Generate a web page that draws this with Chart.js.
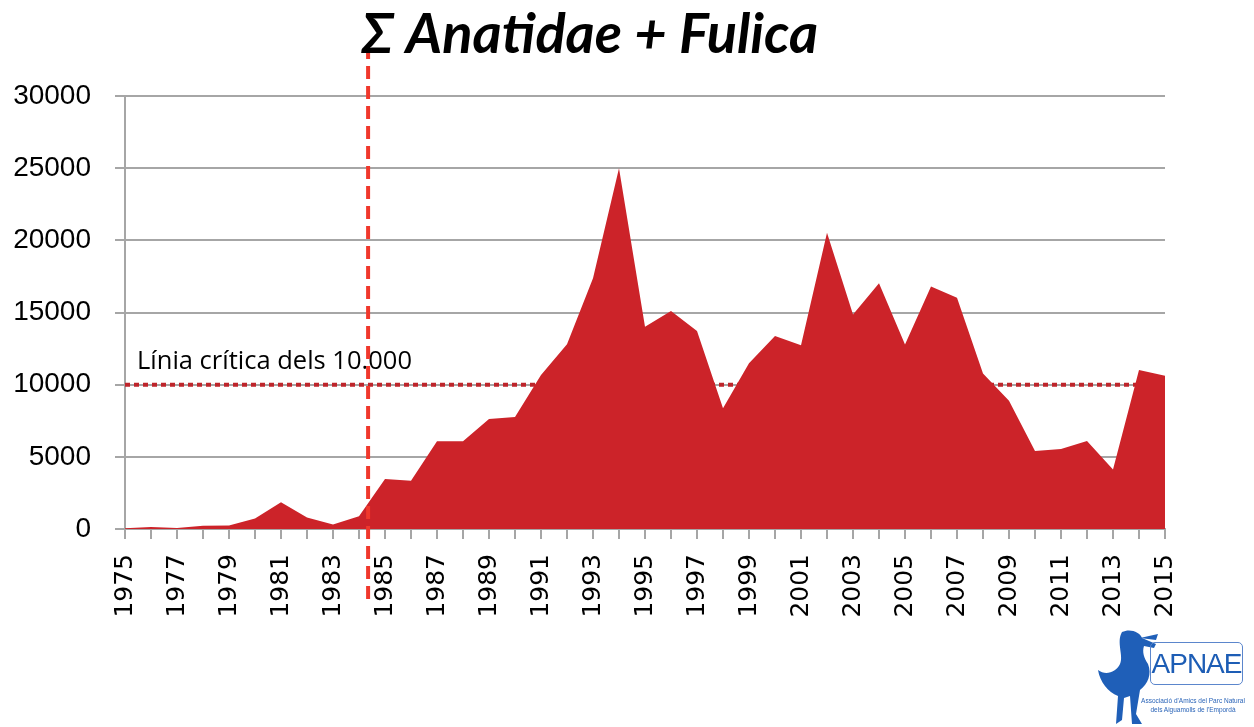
<!DOCTYPE html>
<html>
<head>
<meta charset="utf-8">
<script src="https://cdn.jsdelivr.net/npm/chart.js@4/dist/chart.umd.min.js"></script>
<style>
  body { margin: 0; background: #fff; }
  .wrap { position: relative; width: 1254px; height: 727px; overflow: hidden; }
  .title {
    position: absolute; left: 0; width: 1180px; top: -2px; text-align: center;
    font: italic bold 56px Lato, "Open Sans", sans-serif; color: #000;
  }
  .logo { position: absolute; left: 1096px; top: 628px; width: 158px; height: 99px; }
  .logo .box {
    position: absolute; left: 54px; top: 14px; width: 93px; height: 43px;
    border: 1px solid #5b86cc; border-radius: 5px; box-sizing: border-box;
    font: 28px "Liberation Sans", sans-serif; color: #1d5db5;
    line-height: 42px; text-align: center; letter-spacing: -1px;
  }
  .logo .small {
    position: absolute; left: 36px; top: 68px; width: 122px; text-align: center;
    font: 6.5px "Liberation Sans", sans-serif; color: #2a64b8; line-height: 9px; white-space: nowrap;
  }
</style>
</head>
<body>
<div class="wrap">
  <canvas id="chart" width="1254" height="727"></canvas>
  <div class="title">Σ Anatidae + Fulica</div>
  <div class="logo">
    <svg width="80" height="99" viewBox="0 0 80 99" style="position:absolute;left:0;top:0">
      <path d="M26 4 C34 0 44 4 46 10 L60 16 L58 20 L48 18 C46 24 48 30 52 36
               C56 46 52 56 44 62 L40 86 L46 96 L36 96 L34 68 L28 70 L26 92 L20 96 L22 68
               C12 64 4 54 2 42 C10 48 20 44 24 36 C28 28 20 14 26 4 Z" fill="#1f5fb8"/>
      <path d="M44 10 L62 6 L60 12 Z" fill="#1f5fb8"/>
    </svg>
    <div class="box">APNAE</div>
    <div class="small">Associació d'Amics del Parc Natural<br>dels Aiguamolls de l'Empordà</div>
  </div>
</div>
<script>
const years = [];
for (let y = 1975; y <= 2015; y++) years.push(String(y));

const counts = [
  50, 140, 70, 230, 250, 720, 1850, 800, 320, 880,
  3460, 3350, 6080, 6080, 7620, 7760, 10670, 12800, 17370, 25000,
  14020, 15100, 13720, 8360, 11480, 13370, 12730, 20530, 14870, 17020,
  12790, 16810, 16030, 10780, 8890, 5400, 5540, 6100, 4130, 11020,
  10620
];

const criticalLevel = 10000;
const criticalLabel = 'Línia crítica dels 10.000';
// index position of the vertical marker (a bit after 1984)
const markerIndex = 9.35;

const refLines = {
  id: 'refLines',
  beforeDatasetsDraw(chart) {
    const { ctx, chartArea, scales } = chart;
    const y = scales.y.getPixelForValue(criticalLevel);
    ctx.save();
    ctx.strokeStyle = '#be252b';
    ctx.lineWidth = 4;
    ctx.setLineDash([5, 4]);
    ctx.beginPath();
    ctx.moveTo(chartArea.left, y);
    ctx.lineTo(chartArea.right, y);
    ctx.stroke();
    ctx.fillStyle = '#000';
    ctx.font = '25.5px "Open Sans", sans-serif';
    ctx.textBaseline = 'alphabetic';
    ctx.fillText(criticalLabel, chartArea.left + 12, y - 16);
    ctx.restore();
  },
  afterDatasetsDraw(chart) {
    const { ctx, scales } = chart;
    const x = scales.x.getPixelForValue(markerIndex);
    ctx.save();
    ctx.strokeStyle = '#f0382c';
    ctx.lineWidth = 4;
    ctx.setLineDash([13, 7]);
    ctx.beginPath();
    ctx.moveTo(x, 46);
    ctx.lineTo(x, 606);
    ctx.stroke();
    ctx.restore();
  }
};

new Chart(document.getElementById('chart'), {
  type: 'line',
  data: {
    labels: years,
    datasets: [{
      data: counts,
      fill: 'origin',
      backgroundColor: '#cc2329',
      borderWidth: 0,
      pointRadius: 0,
      tension: 0
    }]
  },
  options: {
    responsive: false,
    animation: false,
    layout: { padding: { top: 96, right: 89, left: 0, bottom: 0 } },
    plugins: { legend: { display: false }, tooltip: { enabled: false } },
    scales: {
      x: {
        offset: false,
        afterFit: s => { s.height = 198; },
        border: { color: '#a6a6a6', width: 2 },
        grid: { drawOnChartArea: false, drawTicks: true, tickLength: 10, color: '#a6a6a6', lineWidth: 2 },
        ticks: {
          autoSkip: false, maxRotation: 90, minRotation: 90, padding: 15,
          color: '#000', font: { family: '"DejaVu Sans", sans-serif', size: 25 },
          callback: (v, i) => (i % 2 === 0 ? years[i] : '')
        }
      },
      y: {
        min: 0, max: 30000,
        afterFit: s => { s.width = 125; },
        border: { color: '#a6a6a6', width: 2 },
        grid: { color: '#a6a6a6', lineWidth: 2, tickLength: 10 },
        ticks: {
          stepSize: 5000, padding: 24, color: '#000',
          font: { family: '"Liberation Sans", sans-serif', size: 28 },
          callback: v => String(v)
        }
      }
    }
  },
  plugins: [refLines]
});
</script>
</body>
</html>
